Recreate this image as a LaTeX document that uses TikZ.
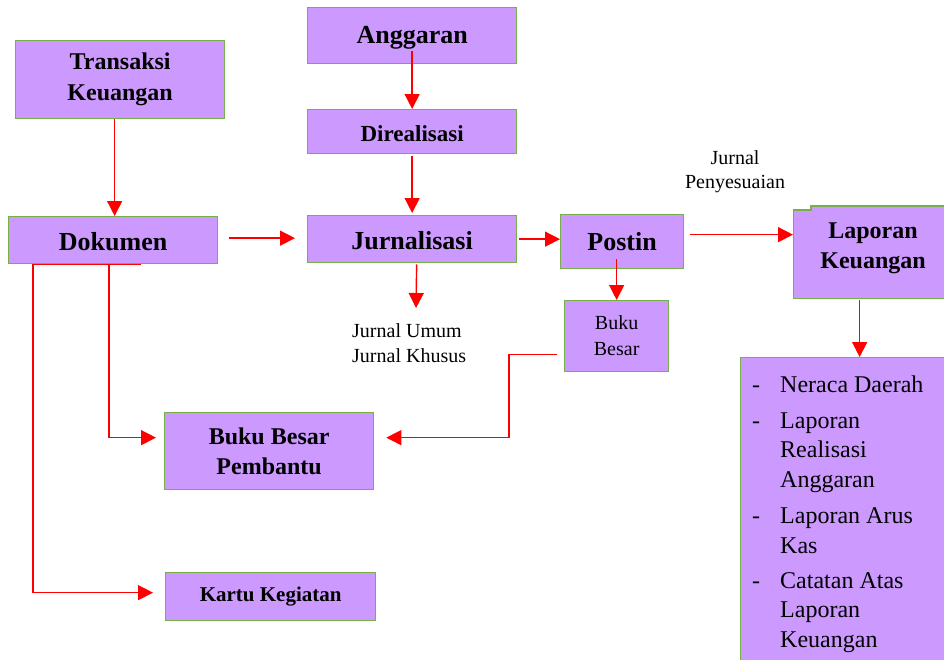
\documentclass[tikz,border=0pt]{standalone}
\usepackage{fontspec}
\setmainfont{Liberation Serif}
\usetikzlibrary{arrows.meta,calc}
\definecolor{boxfill}{RGB}{204,153,255}
\definecolor{boxline}{RGB}{119,176,74}
\definecolor{arr}{RGB}{255,0,0}
\newcommand\fsA{\fontsize{26}{31}\selectfont\bfseries}
\newcommand\fsB{\fontsize{24}{30}\selectfont\bfseries}
\newcommand\fsC{\fontsize{23}{28}\selectfont\bfseries}
\newcommand\fsK{\fontsize{21}{25}\selectfont\bfseries}
\newcommand\fsR{\fontsize{20}{26}\selectfont}
\newcommand\fsL{\fontsize{24}{29.5}\selectfont}
\begin{document}
\begin{tikzpicture}[x=1pt,y=-1pt,
  box/.style={draw=boxline, fill=boxfill, line width=1.3pt, inner sep=0pt, anchor=north west, align=center},
  conn/.style={draw=arr, line width=1.4pt, -{Triangle[length=15pt,width=15pt]}},
  redline/.style={draw=arr, line width=1.4pt},
  plain/.style={inner sep=0pt}]
\useasboundingbox (0,0) rectangle (944,659);

% boxes
\node[box, font=\fsB, minimum width=209pt, minimum height=78pt] (trans) at (15,40) {Transaksi\\[1pt]Keuangan};
\node[box, font=\fsA, text height=22pt, minimum width=209pt, minimum height=47pt] (dok) at (8,216) {Dokumen};
\node[box, font=\fsA, text height=22pt, minimum width=209pt, minimum height=56pt] (ang) at (307,7) {Anggaran};
\node[box, font=\fsC, text height=19pt, minimum width=209pt, minimum height=44pt] (dir) at (307,109) {Direalisasi};
\node[box, font=\fsA, text height=21pt, minimum width=209pt, minimum height=47pt] (jur) at (307,215) {Jurnalisasi};
\node[box, font=\fsA, minimum width=123pt, minimum height=54pt] (post) at (560,214) {Postin};
\node[box, font=\fsR, minimum width=104pt, minimum height=71pt] (bb) at (564,300) {Buku\\Besar};
\node[box, minimum width=153pt, minimum height=88pt] (lap) at (793,210) {};
\node[box, minimum width=210pt, minimum height=320pt] (list) at (740,357) {};
\node[box, font=\fsB, minimum width=209pt, minimum height=77pt] (bbp) at (164,412) {Buku Besar\\Pembantu};
\node[box, font=\fsK, minimum width=210pt, minimum height=48pt] (kartu) at (165,572) {Kartu Kegiatan};

% notch on top of Laporan Keuangan
\fill[boxfill] ($(lap.north west)+(18,0.8)$) rectangle ($(lap.north east)+(0,-4)$);
\draw[boxline, line width=1.3pt] (lap.north west) -- ++(18,0) -- ++(0,-4) -- ($(lap.north east)+(0,-4)$);
\node[plain, anchor=base, font=\fsB] (lapt1) at (873,238) {Laporan};
\node[plain, anchor=base, font=\fsB] (lapt2) at (873,268) {Keuangan};

% list contents
\foreach \y/\t [count=\i] in {392/Neraca Daerah, 428/Laporan, 457/Realisasi, 487/Anggaran, 523/Laporan Arus, 553/Kas, 588/Catatan Atas, 617/Laporan, 647/Keuangan}
  \node[plain, anchor=base west, font=\fsL] (li\i) at (780,\y) {\t};
\foreach \y [count=\i] in {392,428,523,588}
  \node[plain, anchor=base west, font=\fsL] (da\i) at (752,\y) {-};

% free texts
\node[plain, anchor=base west, font=\fsR] (ju1) at (352,337) {Jurnal Umum};
\node[plain, anchor=base west, font=\fsR] (ju2) at (352,362) {Jurnal Khusus};
\node[plain, anchor=base, font=\fsR] (jp1) at (735,164) {Jurnal};
\node[plain, anchor=base, font=\fsR] (jp2) at (735,188) {Penyesuaian};

% connectors
\draw[conn] ($(trans.south -| dok.north)+(1.5,0)$) -- ($(dok.north)+(1.5,0)$);
\draw[conn] ($(ang.south)+(0,-13)$) -- (dir.north);
\draw[conn] ($(dir.south)+(0,2)$) -- ($(jur.north)+(0,-2)$);
\draw[conn] ($(dok.east)+(11,-2)$) -- ($(dok.east -| jur.west)+(-12,-2)$);
\draw[conn] ($(jur.east)+(2,0)$) -- (jur.east -| post.west);
\coordinate (jdn) at (416,308);
\draw[conn] ($(jur.south)+(4.5,1)$) -- (jdn);
\draw[conn] ($(post.south -| bb.north)+(0,-10)$) -- (bb.north);
\draw[conn] ($(post.east)+(6,-7)$) -- ($(post.east -| lap.west)+(0,-7)$);
\coordinate (lapdn) at ($(lap.south)+(-10.5,1)$);
\draw[conn] (lapdn) -- (lapdn |- list.north);
\draw[conn] ($(bb.west)+(-7,18.5)$) -- ++(-48,0) |- ($(bbp.east)+(12,-13.5)$);
\draw[redline] ($(dok.south west)+(24,0)$) -- ($(dok.south west)+(133,0)$);
\draw[conn] ($(dok.south west)+(101,0)$) |- ($(bbp.west)+(-8,-13.5)$);
\draw[conn] ($(dok.south west)+(25,0)$) |- ($(kartu.west)+(-12,-4)$);
\end{tikzpicture}
\end{document}
